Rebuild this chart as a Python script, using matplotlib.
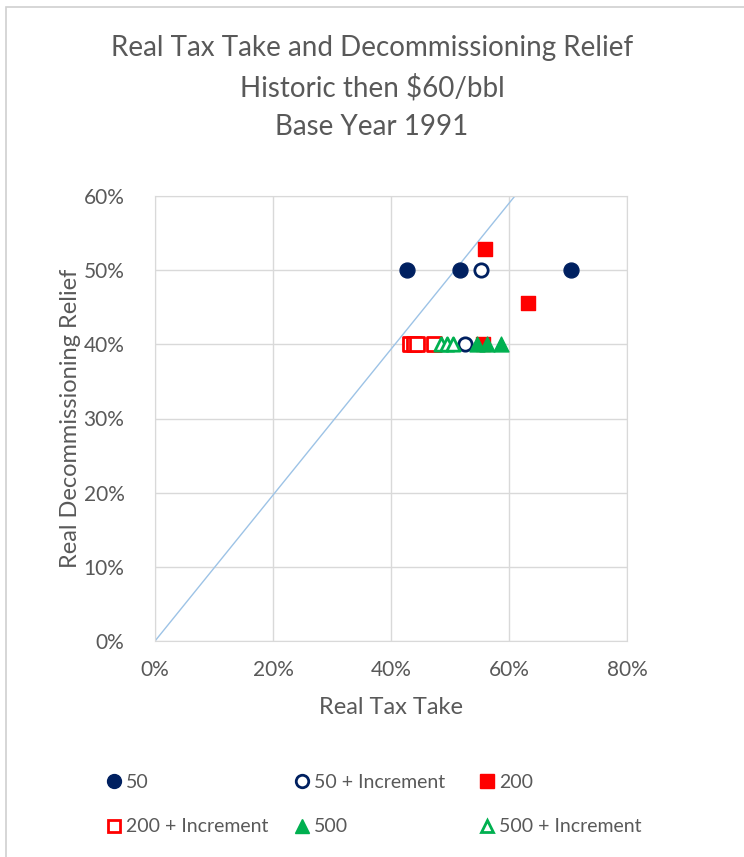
import matplotlib
matplotlib.use("Agg")
import matplotlib.pyplot as plt
from matplotlib.lines import Line2D
from matplotlib.patches import Rectangle
from matplotlib.ticker import PercentFormatter

plt.rcParams['font.family'] = ['Lato', 'DejaVu Sans']

# Data (fractions)
s50_x = [0.427, 0.517, 0.705]
s50_y = [0.50, 0.50, 0.50]
s50i_x = [0.553, 0.525]
s50i_y = [0.50, 0.40]
s200_x = [0.559, 0.632, 0.556]
s200_y = [0.529, 0.456, 0.40]
s200i_x = [0.433, 0.439, 0.444, 0.473]
s200i_y = [0.40, 0.40, 0.40, 0.40]
s500_x = [0.546, 0.562, 0.586]
s500_y = [0.40, 0.40, 0.40]
s500i_x = [0.485, 0.495, 0.505]
s500i_y = [0.40, 0.40, 0.40]
line_x = [0.0, 0.61]
line_y = [0.0, 0.60]

labels = ["50", "50 + Increment", "200", "200 + Increment", "500", "500 + Increment"]
navy = "#002060"
red = "#FF0000"
green = "#00B050"
txt = "#595959"
grid = "#D9D9D9"

fig = plt.figure(figsize=(7.44, 8.57), dpi=100)
fig.patches.append(Rectangle((6/744, -0.01), 1.02, 1 - 7/857 + 0.01, transform=fig.transFigure,
                             fill=False, edgecolor="#D0D0D0", linewidth=1.2))
ax = fig.add_axes([155/744, 1 - 641/857, (627 - 155)/744, (641 - 196)/857])

ax.plot(line_x, line_y, color="#9DC3E6", linewidth=1.0, zorder=2)
ms = 115
ax.scatter(s50_x, s50_y, s=ms, marker='o', color=navy, zorder=3)
ax.scatter(s50i_x, s50i_y, s=ms*0.8, marker='o', facecolor='white', edgecolor=navy, linewidths=2, zorder=3)
ax.scatter(s200_x, s200_y, s=ms, marker='s', color=red, zorder=3)
ax.scatter(s200i_x, s200i_y, s=ms*0.8, marker='s', facecolor='white', edgecolor=red, linewidths=2, zorder=3)
ax.scatter(s500_x, s500_y, s=ms, marker='^', color=green, zorder=4)
ax.scatter(s500i_x, s500i_y, s=ms*0.8, marker='^', facecolor='white', edgecolor=green, linewidths=2, zorder=3)

ax.set_xlim(0, 0.8)
ax.set_ylim(0, 0.6)
ax.set_xticks([0, 0.2, 0.4, 0.6, 0.8])
ax.set_yticks([0, 0.1, 0.2, 0.3, 0.4, 0.5, 0.6])
ax.xaxis.set_major_formatter(PercentFormatter(1.0, decimals=0))
ax.yaxis.set_major_formatter(PercentFormatter(1.0, decimals=0))
ax.grid(True, color=grid, linewidth=1.0)
ax.set_axisbelow(True)
for s in ax.spines.values():
    s.set_color(grid)
ax.tick_params(length=0, labelsize=15, labelcolor=txt)
ax.tick_params(axis='y', pad=22)
ax.tick_params(axis='x', pad=14)
ax.set_xlabel("Real Tax Take", fontsize=17, color=txt, labelpad=12)
ax.set_ylabel("Real Decommissioning Relief", fontsize=17, color=txt, labelpad=2)

fig.text(0.5, 1 - 48/857, "Real Tax Take and Decommissioning Relief", ha='center', va='center', fontsize=20, color=txt)
fig.text(0.5, 1 - 88/857, "Historic then $60/bbl", ha='center', va='center', fontsize=20, color=txt)
fig.text(0.5, 1 - 127/857, "Base Year 1991", ha='center', va='center', fontsize=20, color=txt)

handles = [
    Line2D([], [], marker='o', linestyle='none', color=navy, markersize=10),
    Line2D([], [], marker='o', linestyle='none', markerfacecolor='white', markeredgecolor=navy, markeredgewidth=2, markersize=9),
    Line2D([], [], marker='s', linestyle='none', color=red, markersize=10),
    Line2D([], [], marker='s', linestyle='none', markerfacecolor='white', markeredgecolor=red, markeredgewidth=2, markersize=9),
    Line2D([], [], marker='^', linestyle='none', color=green, markersize=10),
    Line2D([], [], marker='^', linestyle='none', markerfacecolor='white', markeredgecolor=green, markeredgewidth=2, markersize=9),
]
pos = [(106, 782), (294, 782), (479, 782), (106, 827), (294, 827), (479, 827)]
for h, lab, (px, py) in zip(handles, labels, pos):
    fig.legend([h], [lab], loc='center left', bbox_to_anchor=(px/744, 1 - py/857),
               frameon=False, fontsize=14, labelcolor=txt, handlelength=0.8,
               handletextpad=0.25, borderpad=0, borderaxespad=0)

fig.savefig("out.png", dpi=100)
